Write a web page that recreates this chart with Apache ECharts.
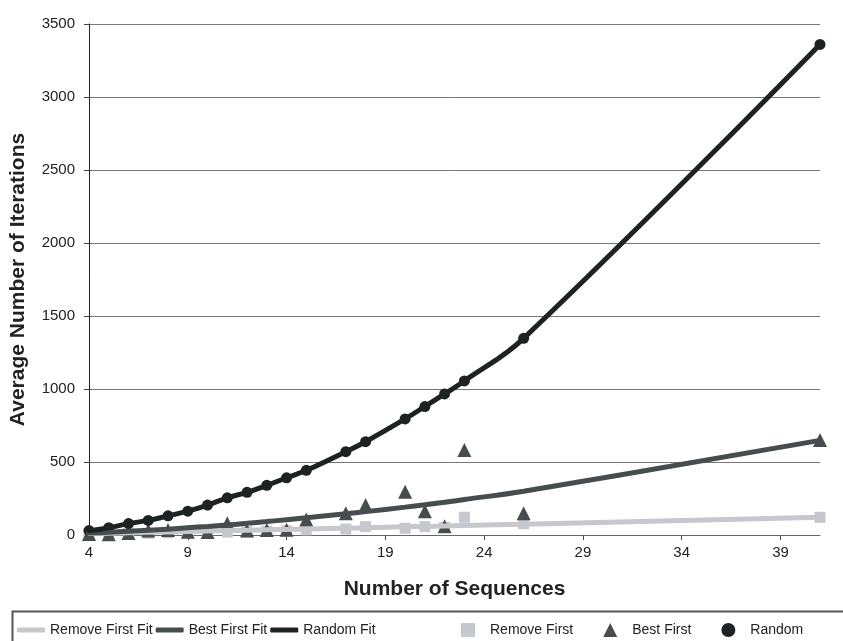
<!DOCTYPE html>
<html>
<head>
<meta charset="utf-8">
<script src="https://cdn.jsdelivr.net/npm/echarts@6/dist/echarts.min.js"></script>
<style>
  html, body { margin: 0; padding: 0; background: #fff; }
  #chart { width: 843px; height: 641px; }
</style>
</head>
<body>
<div id="chart"></div>
<script>
// x values (number of sequences)
var xs = [4, 5, 6, 7, 8, 9, 10, 11, 12, 13, 14, 15, 17, 18, 20, 21, 22, 23, 26, 41];

// measured averages
var randomVals = [30, 50, 78, 100, 131, 163, 205, 255, 292, 340, 392, 443, 571, 639, 795, 880, 966, 1055, 1347, 3360];
var bestFirstVals = [7, 5, 14, 30, 34, 23, 20, 80, 30, 34, 36, 107, 149, 205, 297, 162, 60, 582, 149, 651];
var removeFirstVals = [5, 8, 10, 12, 15, 15, 18, 20, 22, 25, 28, 35, 41, 57, 46, 57, 52, 122, 78, 121];

// fitted curves
var randomFitVals = [30, 50, 78, 100, 131, 163, 205, 255, 292, 340, 392, 443, 571, 639, 795, 880, 966, 1055, 1347, 3360];
var bestFirstFitVals = [13, 19, 25, 32, 40, 50, 59, 69, 80, 92, 105, 118, 145, 160, 191, 207, 224, 243, 300, 648];
var removeFirstFitVals = [10, 12, 15, 18, 21, 24, 27, 30, 33, 36, 38, 41, 47, 50, 56, 59, 62, 65, 74, 121];

var xTicks = [4, 9, 14, 19, 24, 29, 34, 39];

var C_RANDOM = '#1d2322';
var C_BEST = '#474d4e';
var C_REMOVE = '#c6c8ce';
var FONT = 'Liberation Sans, Arial, sans-serif';

function pairs(vals) {
  var out = [];
  for (var i = 0; i < xs.length; i++) {
    out.push([xs[i], vals[i]]);
  }
  return out;
}

function fitSeries(name, vals, color) {
  return {
    name: name,
    type: 'line',
    data: pairs(vals),
    smooth: 0.4,
    showSymbol: false,
    symbol: 'none',
    lineStyle: { color: color, width: 5, cap: 'round' },
    itemStyle: { color: color },
    animation: false
  };
}

function markSeries(name, vals, symbol, size, color) {
  return {
    name: name,
    type: 'scatter',
    data: pairs(vals),
    symbol: symbol,
    symbolSize: size,
    itemStyle: { color: color, opacity: 1 },
    animation: false
  };
}

var chart = echarts.init(document.getElementById('chart'));

var option = {
  backgroundColor: '#fff',
  textStyle: { fontFamily: FONT },
  grid: { left: 89, right: 23, top: 24, bottom: 106, containLabel: false, outerBoundsMode: 'none' },
  xAxis: {
    type: 'value',
    min: 4,
    max: 41,
    name: 'Number of Sequences',
    nameLocation: 'middle',
    nameGap: 44,
    nameTextStyle: { fontSize: 21, fontWeight: 'bold', color: '#222', fontFamily: FONT },
    axisLine: { show: true, lineStyle: { color: '#666', width: 1 } },
    axisTick: { show: true, length: 5, lineStyle: { color: '#444' }, customValues: xTicks },
    axisLabel: { fontSize: 15, color: '#222', margin: 10, customValues: xTicks },
    splitLine: { show: false }
  },
  yAxis: {
    type: 'value',
    min: 0,
    max: 3500,
    interval: 500,
    name: 'Average Number of Iterations',
    nameLocation: 'middle',
    nameGap: 60,
    nameTextStyle: { fontSize: 21, fontWeight: 'bold', color: '#222', fontFamily: FONT },
    axisLine: { show: true, lineStyle: { color: '#222', width: 1 } },
    axisTick: { show: true, length: 5, lineStyle: { color: '#444' } },
    axisLabel: {
      fontSize: 15, color: '#222', margin: 14,
      formatter: function (v) { return String(v); }
    },
    splitLine: { show: true, lineStyle: { color: '#777', width: 1 } }
  },
  legend: [
    {
      left: 12,
      top: 618,
      itemWidth: 28,
      itemHeight: 5,
      itemGap: 3,
      textStyle: { fontSize: 14, color: '#222', fontFamily: FONT },
      data: [
        { name: 'Remove First Fit', icon: 'roundRect' },
        { name: 'Best First Fit', icon: 'roundRect' },
        { name: 'Random Fit', icon: 'roundRect' }
      ]
    },
    {
      left: 456,
      top: 618,
      itemWidth: 14,
      itemHeight: 14,
      itemGap: 30,
      textStyle: { fontSize: 14, color: '#222', fontFamily: FONT, padding: [0, 0, 0, 10] },
      data: ['Remove First', 'Best First', 'Random']
    }
  ],
  graphic: [
    {
      type: 'rect',
      left: 10,
      top: 609,
      shape: { width: 860, height: 60 },
      style: { fill: 'none', stroke: '#555', lineWidth: 2 },
      silent: true
    }
  ],
  series: [
    fitSeries('Remove First Fit', removeFirstFitVals, C_REMOVE),
    fitSeries('Best First Fit', bestFirstFitVals, C_BEST),
    fitSeries('Random Fit', randomFitVals, C_RANDOM),
    markSeries('Remove First', removeFirstVals, 'rect', 11, C_REMOVE),
    markSeries('Best First', bestFirstVals, 'triangle', 14, C_BEST),
    markSeries('Random', randomVals, 'circle', 11, C_RANDOM)
  ]
};

chart.setOption(option);
</script>
</body>
</html>
